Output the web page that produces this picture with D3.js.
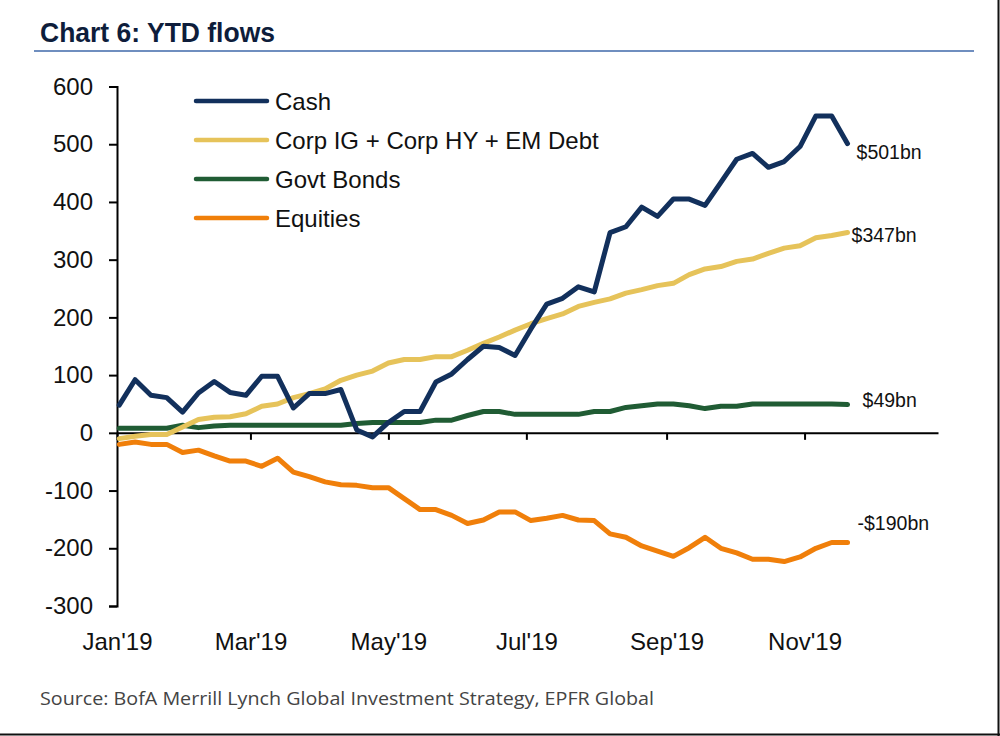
<!DOCTYPE html>
<html>
<head>
<meta charset="utf-8">
<script src="https://cdn.jsdelivr.net/npm/d3@7"></script>
<style>
  html, body { margin: 0; padding: 0; background: #fff; }
  svg { display: block; }
</style>
</head>
<body>
<svg id="chart" width="1000" height="736"></svg>
<script>
// ---- data ----
const seriesNames = ["Cash", "Corp IG + Corp HY + EM Debt", "Govt Bonds", "Equities"];
const endLabels = ["$501bn", "$347bn", "$49bn", "-$190bn"];
const cash = [48,92,65,61,36,69,89,70,65,98,98,43,68,68,75,5,-7,18,37,37,88,102,127,150,148,134,180,223,233,253,244,347,357,391,375,405,405,394,434,474,484,460,470,496,549,549,501];
const corp = [-10,-6,-3,-3,10,23,27,28,33,46,50,61,68,76,91,100,107,121,127,127,132,132,143,155,166,178,189,198,206,219,226,232,242,248,255,259,274,284,288,297,301,311,320,324,338,342,347];
const govt = [8,8,8,8,13,9,12,13,13,13,13,13,13,13,13,16,18,18,18,18,22,22,30,37,37,32,32,32,32,32,37,37,44,47,50,50,47,42,46,46,50,50,50,50,50,50,49];
const equities = [-20,-16,-20,-20,-34,-30,-40,-49,-49,-58,-44,-68,-76,-85,-90,-91,-95,-95,-114,-133,-133,-143,-157,-151,-137,-137,-152,-148,-143,-151,-152,-175,-181,-196,-205,-214,-199,-181,-200,-208,-219,-219,-223,-215,-200,-190,-190];
const yTicks = [-300,-200,-100,0,100,200,300,400,500,600];
const firstWeek = new Date(2019, 0, 2);
const weeks = d3.range(cash.length).map(k => d3.timeDay.offset(firstWeek, 7 * k));

const allSeries = [cash, corp, govt, equities];
const colors = ["#12305c", "#e6c35a", "#205c34", "#f07f0a"];

// ---- layout ----
const svg = d3.select("#chart");
const font = "'Liberation Sans', Arial, sans-serif";

const x = d3.scaleTime()
  .domain([new Date(2019, 0, 1), new Date(2019, 11, 30)])
  .range([117, 938]);
const y = d3.scaleLinear().domain([-300, 600]).range([606, 86.5]);

// Title
svg.append("text")
  .attr("x", 40).attr("y", 42)
  .attr("font-family", font).attr("font-weight", "bold")
  .attr("font-size", 28).attr("fill", "#0e1d3b")
  .attr("textLength", 235).attr("lengthAdjust", "spacingAndGlyphs")
  .text("Chart 6: YTD flows");

svg.append("line")
  .attr("x1", 34).attr("x2", 974).attr("y1", 51).attr("y2", 51)
  .attr("stroke", "#6f8ebf").attr("stroke-width", 2.2);

// Frame edges (right / bottom)
svg.append("line").attr("x1", 998.5).attr("x2", 998.5).attr("y1", 0).attr("y2", 736)
  .attr("stroke", "#111").attr("stroke-width", 2);
svg.append("line").attr("x1", 0).attr("x2", 1000).attr("y1", 734.5).attr("y2", 734.5)
  .attr("stroke", "#111").attr("stroke-width", 2);

// Y axis
const yAxis = svg.append("g")
  .attr("transform", "translate(117,0)")
  .call(d3.axisLeft(y).tickValues(yTicks).tickSize(8).tickSizeOuter(8).tickPadding(16).tickFormat(d => String(d)));
yAxis.select(".domain").attr("stroke", "#000").attr("stroke-width", 2);
yAxis.selectAll(".tick line").attr("stroke", "#000").attr("stroke-width", 2);
yAxis.selectAll("text").attr("font-family", font).attr("font-size", 24).attr("fill", "#111");

// X axis line at zero with tick marks
const xAxis = svg.append("g")
  .attr("transform", `translate(0,${y(0)})`)
  .call(d3.axisBottom(x).ticks(d3.timeMonth.every(2)).tickSize(7).tickSizeOuter(0).tickFormat(""));
xAxis.select(".domain").attr("stroke", "#000").attr("stroke-width", 2);
xAxis.selectAll(".tick line").attr("stroke", "#000").attr("stroke-width", 2);

// X labels at bottom
const xLab = svg.append("g")
  .attr("transform", "translate(0,630)")
  .call(d3.axisBottom(x).ticks(d3.timeMonth.every(2)).tickSize(0).tickPadding(3).tickFormat(d3.timeFormat("%b'%y")));
xLab.select(".domain").remove();
xLab.selectAll("text").attr("font-family", font).attr("font-size", 24).attr("fill", "#111");

// Lines
const line = d3.line().x((d, i) => x(weeks[i])).y(d => y(d));
const order = [3, 2, 1, 0];
order.forEach(si => {
  svg.append("path")
    .datum(allSeries[si])
    .attr("d", line)
    .attr("fill", "none")
    .attr("stroke", colors[si])
    .attr("stroke-width", 5)
    .attr("stroke-linejoin", "round")
    .attr("stroke-linecap", "round");
});

// End labels
const labelOffsets = [[9, 15], [4, 9], [15, 2], [10, -13]];
allSeries.forEach((s, si) => {
  const last = s.length - 1;
  svg.append("text")
    .attr("x", x(weeks[last]) + labelOffsets[si][0])
    .attr("y", y(s[last]) + labelOffsets[si][1])
    .attr("font-family", font).attr("font-size", 19.5).attr("fill", "#111")
    .text(endLabels[si]);
});

// Legend
const legend = svg.append("g");
seriesNames.forEach((name, i) => {
  const ly = 101 + i * 39;
  legend.append("line")
    .attr("x1", 196).attr("x2", 267).attr("y1", ly).attr("y2", ly)
    .attr("stroke", colors[i]).attr("stroke-width", 4.5).attr("stroke-linecap", "round");
  legend.append("text")
    .attr("x", 275).attr("y", ly + 9)
    .attr("font-family", font).attr("font-size", 24).attr("fill", "#111")
    .text(name);
});

// Source
svg.append("text")
  .attr("x", 40).attr("y", 705)
  .attr("font-family", "'Open Sans', 'Noto Sans', sans-serif").attr("font-size", 19)
  .attr("fill", "#444")
  .attr("textLength", 614).attr("lengthAdjust", "spacingAndGlyphs")
  .text("Source:  BofA Merrill Lynch Global Investment Strategy, EPFR Global");
</script>
</body>
</html>
